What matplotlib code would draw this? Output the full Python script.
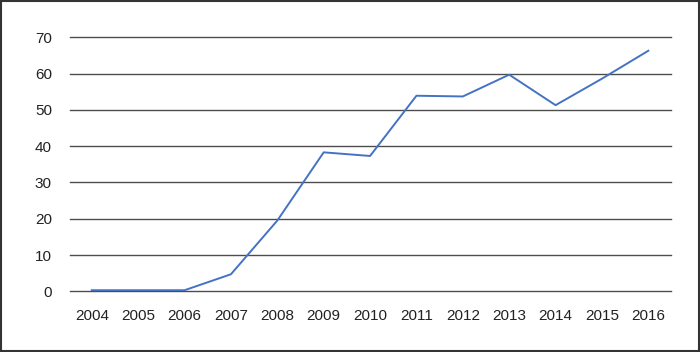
import matplotlib
matplotlib.use('Agg')
import matplotlib.pyplot as plt
from matplotlib.patches import Rectangle

years = ['2004', '2005', '2006', '2007', '2008', '2009', '2010',
         '2011', '2012', '2013', '2014', '2015', '2016']
values = [0.3, 0.3, 0.3, 4.7, 19.5, 38.3, 37.3, 53.9, 53.7, 59.7, 51.3, 58.6, 66.3]
yticks = [0, 10, 20, 30, 40, 50, 60, 70]

plt.rcParams['font.family'] = ['Liberation Sans', 'DejaVu Sans']

fig = plt.figure(figsize=(7, 3.52), dpi=100)
ax = fig.add_axes([0.1, 0.1724, 0.858, 0.7216])

x = list(range(len(years)))
ax.plot(x, values, color='#4472C4', linewidth=1.4, zorder=3)

ax.set_xlim(-0.47, len(years) - 1 + 0.48)
ax.set_ylim(0, 70)
ax.set_yticks(yticks)
ax.set_xticks(x)
ax.set_xticklabels(years)
ax.grid(axis='y', color='#4d4d4d', linewidth=1.0)
for gl in ax.get_ygridlines():
    gl.set_clip_on(False)
ax.set_axisbelow(True)
for s in ax.spines.values():
    s.set_visible(False)
ax.tick_params(axis='both', length=0, labelsize=11, colors='#222222')
ax.tick_params(axis='y', pad=13)
ax.tick_params(axis='x', pad=13)

# figure frame
fig.patches.append(Rectangle((0.001, 0.002), 0.997, 0.995, transform=fig.transFigure,
                             fill=False, edgecolor='#333333', linewidth=1.5))

fig.savefig('out.png', dpi=100)
